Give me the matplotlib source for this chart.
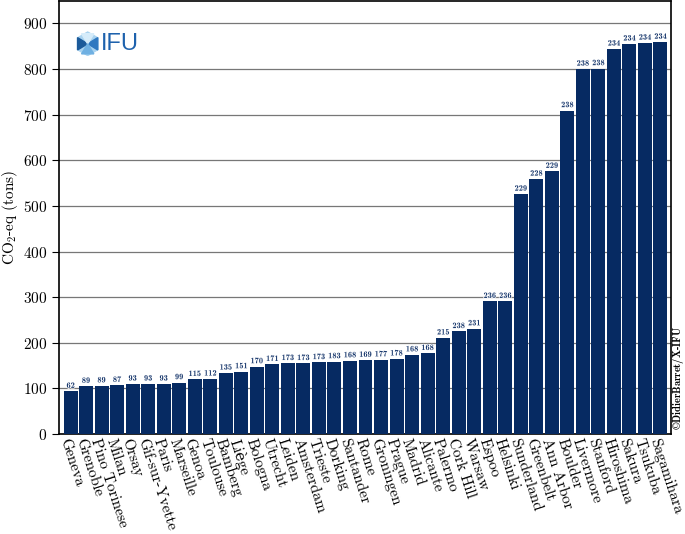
import matplotlib
matplotlib.use('Agg')
import matplotlib.pyplot as plt
import matplotlib.patheffects as pe
from matplotlib.patches import RegularPolygon, Polygon

cities = ['Geneva', 'Grenoble', 'Pino Torinese', 'Milan', 'Orsay', 'Gif-sur-Yvette', 'Paris',
          'Marseille', 'Genoa', 'Toulouse', 'Bamberg', 'Liège', 'Bologna', 'Utrecht', 'Leiden',
          'Amsterdam', 'Trieste', 'Dorking', 'Santander', 'Rome', 'Groningen', 'Prague', 'Madrid',
          'Alicante', 'Palermo', 'Cork Hill', 'Warsaw', 'Espoo', 'Helsinki', 'Sunderland',
          'Greenbelt', 'Ann Arbor', 'Boulder', 'Livermore', 'Stanford', 'Hiroshima', 'Sakura',
          'Tsukuba', 'Sagamihara']
co2_tons = [94, 105, 106, 107, 110, 110, 110, 113, 120, 121, 134, 137, 148, 153, 155, 155, 157,
            159, 161, 162, 163, 165, 174, 177, 211, 225, 231, 291, 291, 526, 559, 576, 709, 800,
            801, 844, 855, 857, 859]
participants = [62, 89, 89, 87, 93, 93, 93, 99, 115, 112, 135, 151, 170, 171, 173, 173, 173, 183,
                168, 169, 177, 178, 168, 168, 215, 238, 231, 236, 236, 229, 228, 229, 238, 238,
                238, 234, 234, 234, 234]

NAVY = '#062a62'

plt.rcParams['font.family'] = ['cmr10', 'DejaVu Serif']
plt.rcParams['mathtext.fontset'] = 'cm'
plt.rcParams['axes.formatter.use_mathtext'] = True

fig = plt.figure(figsize=(6.85, 5.34), dpi=100)
ax = fig.add_axes([0.086, 0.187, 0.894, 0.812])

x = range(len(cities))
bars = ax.bar(x, co2_tons, width=0.9, color=NAVY, zorder=3)

for rect, n in zip(bars, participants):
    ax.text(rect.get_x() + rect.get_width() / 2, rect.get_height() + 3, str(n),
            ha='center', va='bottom', fontsize=6, color='#1b3a6e', fontweight='bold',
            family=['cmb10', 'DejaVu Serif'], zorder=4,
            path_effects=[pe.withStroke(linewidth=1.0, foreground='white')])

ax.set_xlim(-0.75, len(cities) - 0.3)
ax.set_ylim(0, 950)
ax.set_yticks(range(0, 1000, 100))
ax.yaxis.grid(True, color='#777777', linewidth=0.9, zorder=0)
ax.set_axisbelow(True)

ax.set_xticks(list(x))
ax.set_xticklabels(cities, rotation=-72, ha='left', va='top', rotation_mode='anchor', fontsize=11)
ax.tick_params(axis='x', length=0, pad=2)
ax.tick_params(axis='y', labelsize=11, length=5, direction='out')

ax.set_ylabel('CO$_2$-eq (tons)', fontsize=11)
ax.yaxis.set_label_coords(-0.064, 0.5)

for s in ax.spines.values():
    s.set_linewidth(1.2)
    s.set_color('black')

# copyright note on the right
fig.text(0.991, 0.195, r'$\copyright$DidierBarret/X-IFU', rotation=90, ha='center', va='bottom',
         fontsize=7.5, family=['cmb10', 'DejaVu Serif'])

# IFU logo, top left
logo = fig.add_axes([0.11, 0.893, 0.036, 0.05])
logo.set_xlim(-1.1, 1.1)
logo.set_ylim(-1.1, 1.1)
logo.set_aspect('equal')
logo.axis('off')
logo.add_patch(RegularPolygon((0, 0), 6, radius=1.05, color='#a9d3f0'))
logo.add_patch(Polygon([(-0.9, 0.55), (0.0, 0.0), (-0.9, -0.55)], color='#1b5a9a'))
logo.add_patch(Polygon([(0.9, 0.55), (0.0, 0.0), (0.9, -0.55)], color='#2f78c0'))
logo.add_patch(Polygon([(-0.55, 0.9), (0.0, 0.0), (0.55, 0.9)], color='#d6ecfa'))
logo.add_patch(Polygon([(-0.55, -0.9), (0.0, 0.0), (0.55, -0.9)], color='#6fb0e2'))
fig.text(0.147, 0.917, 'IFU', fontsize=17, color='#1e62ad', family='Liberation Sans',
         ha='left', va='center')

fig.savefig('out.png', dpi=100)
